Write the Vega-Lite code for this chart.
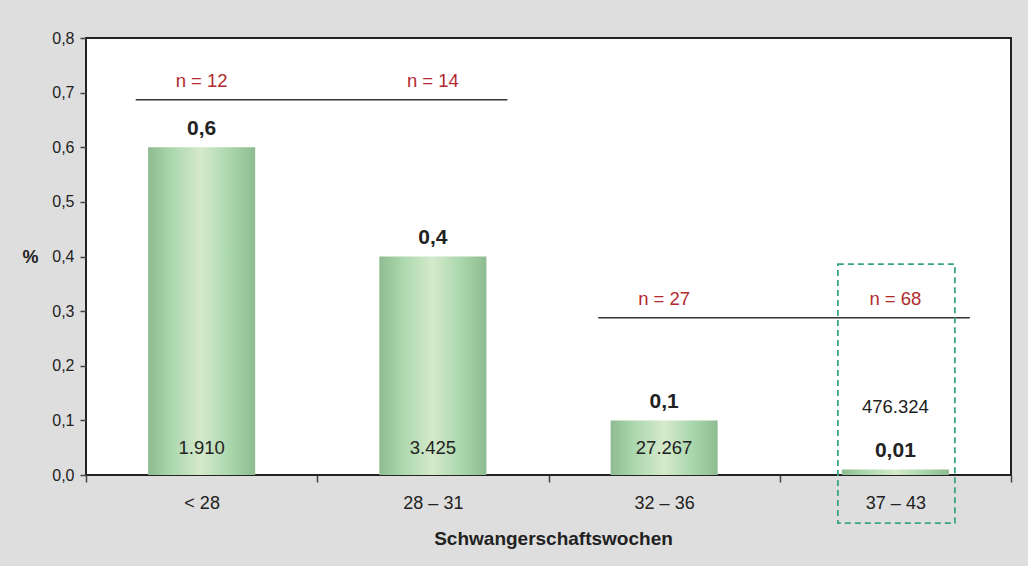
{
  "$schema": "https://vega.github.io/schema/vega-lite/v6.json",
  "width": 925,
  "height": 437,
  "autosize": "none",
  "padding": {"left": 86, "top": 38, "right": 17, "bottom": 91},
  "background": "#dedede",
  "datasets": {
    "bars": [
      {"cat": "< 28", "pct": 0.6, "count": 1910},
      {"cat": "28 – 31", "pct": 0.4, "count": 3425},
      {"cat": "32 – 36", "pct": 0.1, "count": 27267},
      {"cat": "37 – 43", "pct": 0.01, "count": 476324}
    ],
    "groups": [
      {"from": "< 28", "to": "28 – 31", "level": 0.687},
      {"from": "32 – 36", "to": "37 – 43", "level": 0.288}
    ],
    "ns": [
      {"cat": "< 28", "label": "n = 12", "level": 0.687},
      {"cat": "28 – 31", "label": "n = 14", "level": 0.687},
      {"cat": "32 – 36", "label": "n = 27", "level": 0.288},
      {"cat": "37 – 43", "label": "n = 68", "level": 0.288}
    ],
    "highlight": [
      {"cat": "37 – 43", "lo": -0.088, "hi": 0.386}
    ]
  },
  "config": {
    "locale": {"number": {"decimal": ",", "thousands": ".", "grouping": [3], "currency": ["", " €"]}},
    "font": "Liberation Sans",
    "view": {"stroke": "#222", "strokeWidth": 2, "fill": "white"},
    "axisX": {
      "tickBand": "extent",
      "domain": false,
      "tickSize": 7,
      "tickColor": "#444",
      "tickWidth": 1.5,
      "labelFontSize": 18,
      "labelColor": "#222",
      "labelPadding": 12,
      "labelAngle": 0,
      "titleFontSize": 19,
      "titleFontWeight": "bold",
      "titleColor": "#222",
      "titleX": 467,
      "titleY": 63,
      "titleBaseline": "middle"
    },
    "axisY": {
      "domain": false,
      "grid": false,
      "tickSize": 6,
      "tickColor": "#444",
      "tickWidth": 1.5,
      "tickCount": 8,
      "format": ".1f",
      "labelFontSize": 16,
      "labelColor": "#222",
      "labelPadding": 6,
      "titleFontSize": 18,
      "titleFontWeight": "bold",
      "titleColor": "#222",
      "titleAngle": 0,
      "titleX": -56,
      "titleY": 219,
      "titleAlign": "center",
      "titleBaseline": "middle"
    }
  },
  "layer": [
    {
      "data": {"name": "bars"},
      "mark": {
        "type": "bar",
        "width": {"band": 0.463},
        "fill": {
          "gradient": "linear", "x1": 0, "x2": 1, "y1": 0, "y2": 0,
          "stops": [
            {"offset": 0, "color": "#8fbb91"},
            {"offset": 0.22, "color": "#acd8ae"},
            {"offset": 0.5, "color": "#d5e9cb"},
            {"offset": 0.75, "color": "#acd8ae"},
            {"offset": 1, "color": "#8fbb91"}
          ]
        }
      },
      "encoding": {
        "x": {"field": "cat", "type": "nominal", "title": "Schwangerschaftswochen",
              "scale": {"domain": ["< 28", "28 – 31", "32 – 36", "37 – 43"], "paddingInner": 0, "paddingOuter": 0}},
        "y": {"field": "pct", "type": "quantitative", "title": "%",
              "scale": {"domain": [0, 0.8], "nice": false}}
      }
    },
    {
      "data": {"name": "groups"},
      "mark": {"type": "rule", "color": "#333", "strokeWidth": 1.4},
      "encoding": {
        "x": {"field": "from", "type": "nominal", "bandPosition": 0.215, "title": "Schwangerschaftswochen"},
        "x2": {"field": "to", "bandPosition": 0.822},
        "y": {"field": "level", "type": "quantitative", "title": "%"}
      }
    },
    {
      "data": {"name": "ns"},
      "mark": {"type": "text", "fontSize": 18.5, "color": "#b12a2f", "baseline": "middle", "dy": -19},
      "encoding": {
        "x": {"field": "cat", "type": "nominal", "title": "Schwangerschaftswochen"},
        "y": {"field": "level", "type": "quantitative", "title": "%"},
        "text": {"field": "label"}
      }
    },
    {
      "data": {"name": "bars"},
      "mark": {"type": "text", "fontSize": 21, "fontWeight": "bold", "color": "#222", "baseline": "middle", "dy": -18.5},
      "encoding": {
        "x": {"field": "cat", "type": "nominal", "title": "Schwangerschaftswochen"},
        "y": {"field": "pct", "type": "quantitative", "title": "%"},
        "text": {"field": "pct", "type": "quantitative", "format": "~g"}
      }
    },
    {
      "data": {"name": "bars"},
      "transform": [{"filter": "datum.pct >= 0.05"}],
      "mark": {"type": "text", "fontSize": 18.5, "color": "#222", "baseline": "middle"},
      "encoding": {
        "x": {"field": "cat", "type": "nominal", "title": "Schwangerschaftswochen"},
        "y": {"datum": 0.05, "type": "quantitative", "title": "%"},
        "text": {"field": "count", "type": "quantitative", "format": ",d"}
      }
    },
    {
      "data": {"name": "bars"},
      "transform": [{"filter": "datum.pct < 0.05"}],
      "mark": {"type": "text", "fontSize": 18.5, "color": "#222", "baseline": "middle", "dy": -62.5},
      "encoding": {
        "x": {"field": "cat", "type": "nominal", "title": "Schwangerschaftswochen"},
        "y": {"field": "pct", "type": "quantitative", "title": "%"},
        "text": {"field": "count", "type": "quantitative", "format": ",d"}
      }
    },
    {
      "data": {"name": "highlight"},
      "mark": {"type": "bar", "width": {"band": 0.506}, "xOffset": 1, "fill": null, "fillOpacity": 0, "stroke": "#3aa778", "strokeWidth": 1.8, "strokeDash": [6, 4], "clip": false},
      "encoding": {
        "x": {"field": "cat", "type": "nominal", "title": "Schwangerschaftswochen"},
        "y": {"field": "lo", "type": "quantitative", "title": "%"},
        "y2": {"field": "hi"}
      }
    }
  ]
}
